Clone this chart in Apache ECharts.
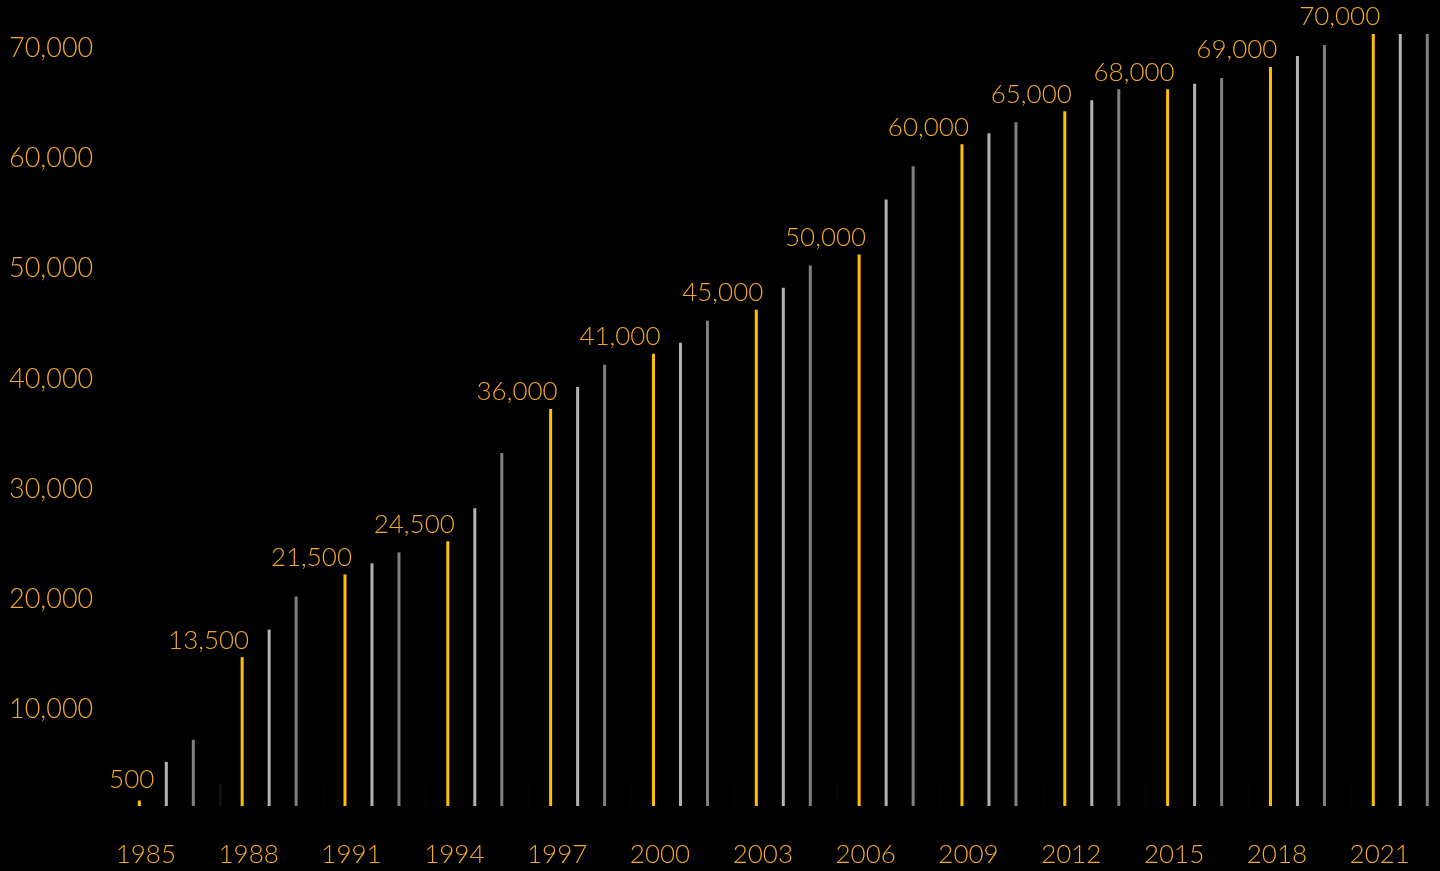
<!DOCTYPE html>
<html>
<head>
<meta charset="utf-8">
<script src="https://cdn.jsdelivr.net/npm/echarts@6/dist/echarts.min.js"></script>
<style>
  html, body { margin: 0; padding: 0; background: #000; overflow: hidden; }
  #chart { width: 1480px; height: 871px; }
</style>
</head>
<body>
<div id="chart"></div>
<script>
// Period start years (x-axis labels)
const categories = ['1985','1988','1991','1994','1997','2000','2003','2006','2009','2012','2015','2018','2021'];
// Highlighted (gold) bars
const highlightValues = [500, 13500, 21000, 24000, 36000, 41000, 45000, 50000, 60000, 63000, 65000, 67000, 70000];
// Second bar in each group (light grey)
const secondValues = [4000, 16000, 22000, 27000, 38000, 42000, 47000, 55000, 61000, 64000, 65500, 68000, 70000];
// Third bar in each group (dark grey)
const thirdValues = [6000, 19000, 23000, 32000, 40000, 44000, 49000, 58000, 62000, 65000, 66000, 69000, 70000];
// Fourth bar in each group (near black, barely visible)
const fourthValues = [2000, 2000, 2000, 2000, 2000, 2000, 2000, 2000, 2000, 2000, 2000, 2000, 2000];
// Annotation texts above the gold bars
const annotations = ['500','13,500','21,500','24,500','36,000','41,000','45,000','50,000','60,000','65,000','68,000','69,000','70,000'];
// Y-axis ticks
const yMin = 0, yMax = 70000, yStep = 10000;

const GOLD = '#FFC000';
const TEXT = '#F2A62A';
const FONT = 'Lato';

const chart = echarts.init(document.getElementById('chart'), null, { renderer: 'canvas' });

const barBase = { type: 'bar', barWidth: 3, barGap: '800%', animation: false, silent: true };

// the first (very short) bar's annotation sits a little further right/up
const highlightData = highlightValues.map((v, i) =>
  i === 0 ? { value: v, label: { offset: [15, -4] } } : v);

chart.setOption({
  backgroundColor: '#000000',
  animation: false,
  grid: { left: 128.4, top: 34, width: 1336.8, bottom: 65, containLabel: false },
  xAxis: {
    type: 'category',
    data: categories,
    axisLine: { show: false },
    axisTick: { show: false },
    splitLine: { show: false },
    axisLabel: {
      color: TEXT, fontFamily: FONT, fontSize: 26, fontWeight: 300,
      margin: 36, interval: 0,
      padding: [0, 68, 0, 0]
    }
  },
  yAxis: {
    type: 'value',
    min: yMin, max: yMax, interval: yStep,
    axisLine: { show: false },
    axisTick: { show: false },
    splitLine: { show: false },
    axisLabel: {
      color: TEXT, fontFamily: FONT, fontSize: 27, fontWeight: 300,
      align: 'left', margin: 119.4, verticalAlign: 'top', lineHeight: 28,
      formatter: v => v === 0 ? '' : v.toLocaleString('en-US')
    }
  },
  series: [
    Object.assign({}, barBase, {
      name: 'highlight', data: highlightData, itemStyle: { color: GOLD },
      label: {
        show: true, position: 'top', distance: 4, align: 'right', offset: [7, 0],
        color: TEXT, fontFamily: FONT, fontSize: 26, fontWeight: 300,
        formatter: p => annotations[p.dataIndex]
      }
    }),
    Object.assign({}, barBase, { name: 'second', data: secondValues, itemStyle: { color: '#B3B3B3' } }),
    Object.assign({}, barBase, { name: 'third', data: thirdValues, itemStyle: { color: '#808080' } }),
    Object.assign({}, barBase, {
      name: 'fourth', data: fourthValues,
      itemStyle: { color: p => p.dataIndex === 0 ? '#121212' : '#030303' }
    })
  ]
});
</script>
</body>
</html>
